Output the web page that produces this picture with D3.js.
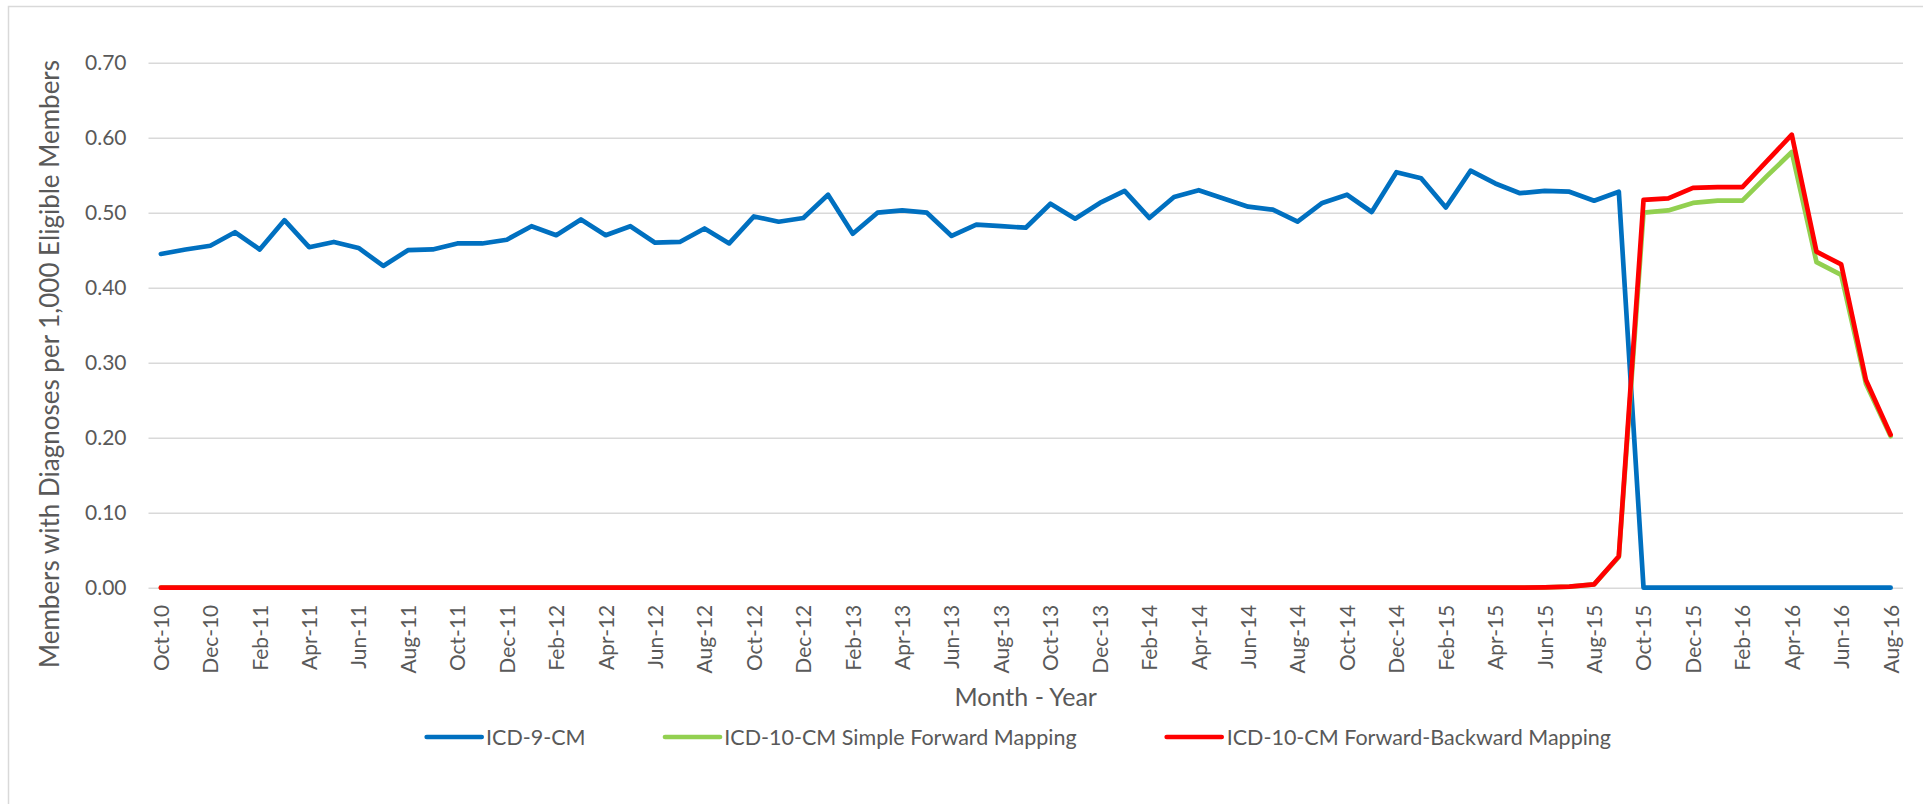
<!DOCTYPE html>
<html>
<head>
<meta charset="utf-8">
<script src="https://cdn.jsdelivr.net/npm/d3@7"></script>
<style>
  html, body { margin: 0; padding: 0; background: #ffffff; }
  svg { display: block; }
  text { font-family: Lato, "Open Sans", sans-serif; fill: #595959; }
</style>
</head>
<body>
<svg id="chart" width="1923" height="804"></svg>
<script>
const categories = [
  "Oct-10","Nov-10","Dec-10",
  "Jan-11","Feb-11","Mar-11","Apr-11","May-11","Jun-11","Jul-11","Aug-11","Sep-11","Oct-11","Nov-11","Dec-11",
  "Jan-12","Feb-12","Mar-12","Apr-12","May-12","Jun-12","Jul-12","Aug-12","Sep-12","Oct-12","Nov-12","Dec-12",
  "Jan-13","Feb-13","Mar-13","Apr-13","May-13","Jun-13","Jul-13","Aug-13","Sep-13","Oct-13","Nov-13","Dec-13",
  "Jan-14","Feb-14","Mar-14","Apr-14","May-14","Jun-14","Jul-14","Aug-14","Sep-14","Oct-14","Nov-14","Dec-14",
  "Jan-15","Feb-15","Mar-15","Apr-15","May-15","Jun-15","Jul-15","Aug-15","Sep-15","Oct-15","Nov-15","Dec-15",
  "Jan-16","Feb-16","Mar-16","Apr-16","May-16","Jun-16","Jul-16","Aug-16"
];

const icd9 = [
  0.445, 0.451, 0.456,
  0.474, 0.451, 0.490, 0.454, 0.461, 0.453, 0.429, 0.450, 0.451, 0.459, 0.459, 0.464,
  0.482, 0.470, 0.491, 0.470, 0.482, 0.460, 0.461, 0.479, 0.459, 0.495, 0.488, 0.493,
  0.524, 0.472, 0.500, 0.503, 0.500, 0.469, 0.484, 0.482, 0.480, 0.512, 0.492, 0.513,
  0.529, 0.493, 0.521, 0.530, 0.519, 0.508, 0.504, 0.488, 0.513, 0.524, 0.501, 0.554,
  0.546, 0.507, 0.556, 0.539, 0.526, 0.529, 0.528, 0.516, 0.528, 0.000, 0.000, 0.000,
  0.000, 0.000, 0.000, 0.000, 0.000, 0.000, 0.000, 0.000
];

const icd10Simple = [
  0.000, 0.000, 0.000,
  0.000, 0.000, 0.000, 0.000, 0.000, 0.000, 0.000, 0.000, 0.000, 0.000, 0.000, 0.000,
  0.000, 0.000, 0.000, 0.000, 0.000, 0.000, 0.000, 0.000, 0.000, 0.000, 0.000, 0.000,
  0.000, 0.000, 0.000, 0.000, 0.000, 0.000, 0.000, 0.000, 0.000, 0.000, 0.000, 0.000,
  0.000, 0.000, 0.000, 0.000, 0.000, 0.000, 0.000, 0.000, 0.000, 0.000, 0.000, 0.000,
  0.000, 0.000, 0.000, 0.000, 0.000, 0.0005, 0.0015, 0.0045, 0.041, 0.500, 0.503, 0.513,
  0.516, 0.516, 0.549, 0.581, 0.434, 0.417, 0.272, 0.202
];

const icd10FwdBwd = [
  0.000, 0.000, 0.000,
  0.000, 0.000, 0.000, 0.000, 0.000, 0.000, 0.000, 0.000, 0.000, 0.000, 0.000, 0.000,
  0.000, 0.000, 0.000, 0.000, 0.000, 0.000, 0.000, 0.000, 0.000, 0.000, 0.000, 0.000,
  0.000, 0.000, 0.000, 0.000, 0.000, 0.000, 0.000, 0.000, 0.000, 0.000, 0.000, 0.000,
  0.000, 0.000, 0.000, 0.000, 0.000, 0.000, 0.000, 0.000, 0.000, 0.000, 0.000, 0.000,
  0.000, 0.000, 0.000, 0.000, 0.000, 0.0005, 0.0015, 0.0045, 0.042, 0.517, 0.519, 0.533,
  0.534, 0.534, 0.569, 0.604, 0.448, 0.431, 0.277, 0.204
];

const yTicks = [0.00, 0.10, 0.20, 0.30, 0.40, 0.50, 0.60, 0.70];

const seriesNames = ["ICD-9-CM", "ICD-10-CM Simple Forward Mapping", "ICD-10-CM Forward-Backward Mapping"];
const seriesColors = ["#0070C0", "#92D050", "#FF0000"];

const yTitle = "Members with Diagnoses per 1,000 Eligible Members";
const xTitle = "Month - Year";

// ---------- layout ----------
const svg = d3.select("#chart");
const plotLeft = 148.5, plotRight = 1903, plotTop = 62.7, plotBottom = 587.7;

// chart area border (left/top visible)
svg.append("rect")
  .attr("x", 8.5).attr("y", 6.5)
  .attr("width", 1940).attr("height", 820)
  .attr("fill", "none").attr("stroke", "#D9D9D9").attr("stroke-width", 1.5);

const x = d3.scalePoint().domain(categories).range([plotLeft, plotRight]).padding(0.5);
const y = d3.scaleLinear().domain([0, 0.7]).range([plotBottom, plotTop]);

// gridlines
const yAxis = d3.axisLeft(y).tickValues(yTicks).tickSize(-(plotRight - plotLeft)).tickFormat(d3.format(".2f")).tickPadding(22);
const gy = svg.append("g").attr("transform", `translate(${plotLeft},0)`).call(yAxis);
gy.select(".domain").remove();
gy.selectAll(".tick line").attr("stroke", "#D9D9D9").attr("stroke-width", 1.5);
gy.selectAll(".tick text")
  .attr("font-size", 21).attr("fill", "#595959")
  .style("font-family", "Lato, 'Open Sans', sans-serif");

// x labels (every other month)
const xLabels = categories.filter((d, i) => i % 2 === 0);
const xAxis = d3.axisBottom(x).tickValues(xLabels).tickSize(0).tickPadding(0);
const gx = svg.append("g").attr("transform", `translate(0,${plotBottom})`).call(xAxis);
gx.select(".domain").remove();
gx.selectAll(".tick text")
  .attr("font-size", 21).attr("fill", "#595959")
  .style("font-family", "Lato, 'Open Sans', sans-serif")
  .attr("text-anchor", "end")
  .attr("transform", "translate(0,17) rotate(-90)")
  .attr("x", 0).attr("y", 0).attr("dy", "0.35em");

// lines
const line = d3.line()
  .x((d, i) => x(categories[i]))
  .y(d => y(d));

const seriesData = [icd9, icd10Simple, icd10FwdBwd];
seriesData.forEach((vals, k) => {
  svg.append("path")
    .datum(vals)
    .attr("d", line)
    .attr("fill", "none")
    .attr("stroke", seriesColors[k])
    .attr("stroke-width", 4.7)
    .attr("stroke-linejoin", "round")
    .attr("stroke-linecap", "round");
});

// axis titles
svg.append("text")
  .attr("transform", `translate(58.5,364) rotate(-90)`)
  .attr("text-anchor", "middle")
  .attr("font-size", 26)
  .text(yTitle);

svg.append("text")
  .attr("x", (plotLeft + plotRight) / 2)
  .attr("y", 706)
  .attr("text-anchor", "middle")
  .attr("font-size", 25)
  .text(xTitle);

// legend
const legendY = 737;
const legendItems = [
  { lineX: 426.7, textX: 486 },
  { lineX: 665, textX: 724.3 },
  { lineX: 1166.7, textX: 1226.7 }
];
legendItems.forEach((it, k) => {
  svg.append("line")
    .attr("x1", it.lineX).attr("x2", it.lineX + 55)
    .attr("y1", legendY).attr("y2", legendY)
    .attr("stroke", seriesColors[k]).attr("stroke-width", 4.7)
    .attr("stroke-linecap", "round");
  svg.append("text")
    .attr("x", it.textX).attr("y", legendY)
    .attr("dy", "0.35em")
    .attr("font-size", 21.5)
    .text(seriesNames[k]);
});
</script>
</body>
</html>
